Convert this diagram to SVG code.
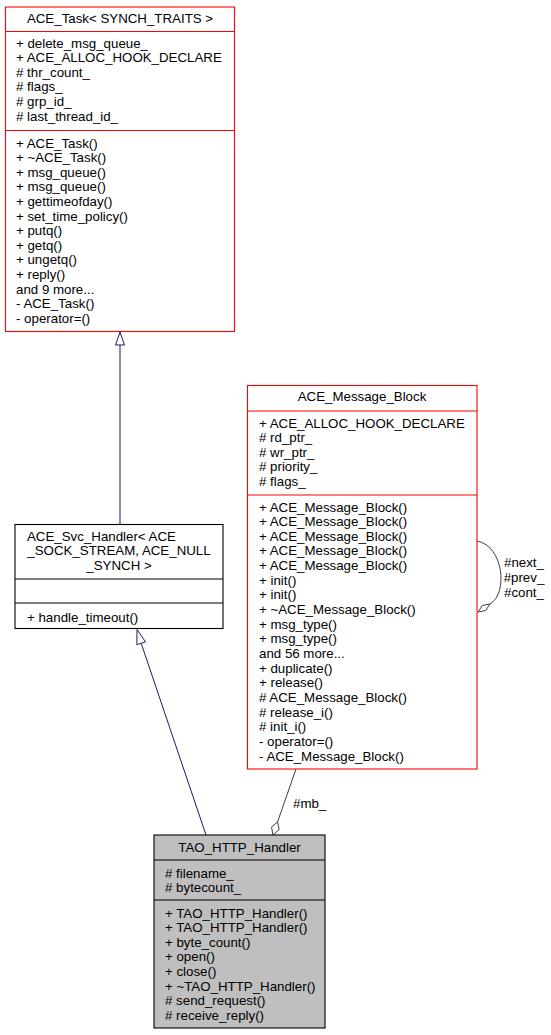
<svg xmlns="http://www.w3.org/2000/svg" width="551" height="1035" viewBox="0 0 551 1035">
<style>
text { font-family: "Liberation Sans", Arial, sans-serif; font-size: 13.3px; fill: #000; }
.c { text-anchor: middle; }
.red { fill: #fff; stroke: #ff0000; stroke-width: 1.1; }
.blk { fill: #fff; stroke: #000; stroke-width: 1.1; }
.gray { fill: #bfbfbf; stroke: #000; stroke-width: 1.1; }
.redl { stroke: #ff0000; stroke-width: 1.1; }
.blkl { stroke: #000; stroke-width: 1.1; }
.inh { fill: none; stroke: #191970; stroke-width: 1; }
.inhh { fill: #fff; stroke: #191970; stroke-width: 1; }
.col { fill: none; stroke: #404040; stroke-width: 1; }
.colh { fill: #fff; stroke: #404040; stroke-width: 1; }
</style>
<rect width="551" height="1035" fill="#fff"/>

<g id="connectors">
  <path class="inh" d="M120,524.5 L120,345"/>
  <polygon class="inhh" points="120,332 124.5,345 115.5,345"/>
  <path class="inh" d="M206,835 L141.2,643.3"/>
  <polygon class="inhh" points="137,629.5 145.5,641.9 136.9,644.7"/>
  <path class="col" d="M296,769 L277.6,821.8"/>
  <polygon class="colh" points="273,835 271.5,827.1 277.6,821.8 279.1,829.7"/>
  <text x="293" y="807.5">#mb_</text>
  <path class="col" d="M477,541 C504,546 508,594 490,604"/>
  <polygon class="colh" points="478,612 482.3,605.5 490,604 485.7,610.5"/>
  <text class="c" x="524" y="567">#next_</text>
  <text class="c" x="524" y="582">#prev_</text>
  <text class="c" x="524" y="596.5">#cont_</text>
</g>

<g id="ACE_Task">
  <rect class="red" x="5.5" y="7" width="229" height="324.5"/>
  <line class="redl" x1="5.5" y1="31.5" x2="234.5" y2="31.5"/>
  <line class="redl" x1="5.5" y1="130.5" x2="234.5" y2="130.5"/>
  <text class="c" x="120" y="23">ACE_Task&lt; SYNCH_TRAITS &gt;</text>
  <text x="16" y="47.5">+ delete_msg_queue_</text>
  <text x="16" y="62.1">+ ACE_ALLOC_HOOK_DECLARE</text>
  <text x="16" y="76.7"># thr_count_</text>
  <text x="16" y="91.3"># flags_</text>
  <text x="16" y="105.9"># grp_id_</text>
  <text x="16" y="120.5"># last_thread_id_</text>
  <text x="16" y="147.5">+ ACE_Task()</text>
  <text x="16" y="162.1">+ ~ACE_Task()</text>
  <text x="16" y="176.7">+ msg_queue()</text>
  <text x="16" y="191.3">+ msg_queue()</text>
  <text x="16" y="205.9">+ gettimeofday()</text>
  <text x="16" y="220.5">+ set_time_policy()</text>
  <text x="16" y="235.1">+ putq()</text>
  <text x="16" y="249.7">+ getq()</text>
  <text x="16" y="264.3">+ ungetq()</text>
  <text x="16" y="278.9">+ reply()</text>
  <text x="16" y="293.5">and 9 more...</text>
  <text x="16" y="308.1">- ACE_Task()</text>
  <text x="16" y="322.7">- operator=()</text>
</g>

<g id="ACE_Message_Block">
  <rect class="red" x="247.5" y="385.5" width="229.5" height="383.5"/>
  <line class="redl" x1="247.5" y1="411" x2="477" y2="411"/>
  <line class="redl" x1="247.5" y1="495" x2="477" y2="495"/>
  <text class="c" x="362" y="400.5">ACE_Message_Block</text>
  <text x="259" y="427.5">+ ACE_ALLOC_HOOK_DECLARE</text>
  <text x="259" y="442"># rd_ptr_</text>
  <text x="259" y="456.5"># wr_ptr_</text>
  <text x="259" y="471"># priority_</text>
  <text x="259" y="485.5"># flags_</text>
  <text x="259" y="511.5">+ ACE_Message_Block()</text>
  <text x="259" y="526.15">+ ACE_Message_Block()</text>
  <text x="259" y="540.8">+ ACE_Message_Block()</text>
  <text x="259" y="555.45">+ ACE_Message_Block()</text>
  <text x="259" y="570.1">+ ACE_Message_Block()</text>
  <text x="259" y="584.75">+ init()</text>
  <text x="259" y="599.4">+ init()</text>
  <text x="259" y="614.05">+ ~ACE_Message_Block()</text>
  <text x="259" y="628.7">+ msg_type()</text>
  <text x="259" y="643.35">+ msg_type()</text>
  <text x="259" y="658">and 56 more...</text>
  <text x="259" y="672.65">+ duplicate()</text>
  <text x="259" y="687.3">+ release()</text>
  <text x="259" y="701.95"># ACE_Message_Block()</text>
  <text x="259" y="716.6"># release_i()</text>
  <text x="259" y="731.25"># init_i()</text>
  <text x="259" y="745.9">- operator=()</text>
  <text x="259" y="760.55">- ACE_Message_Block()</text>
</g>

<g id="ACE_Svc_Handler">
  <rect class="blk" x="15" y="524.5" width="208" height="104"/>
  <line class="blkl" x1="15" y1="579" x2="223" y2="579"/>
  <line class="blkl" x1="15" y1="603" x2="223" y2="603"/>
  <text x="27" y="540.5">ACE_Svc_Handler&lt; ACE</text>
  <text class="c" x="119" y="555">_SOCK_STREAM, ACE_NULL</text>
  <text class="c" x="119" y="569.5">_SYNCH &gt;</text>
  <text x="27" y="621.5">+ handle_timeout()</text>
</g>

<g id="TAO_HTTP_Handler">
  <rect class="gray" x="154" y="835" width="171" height="193"/>
  <line class="blkl" x1="154" y1="860" x2="325" y2="860"/>
  <line class="blkl" x1="154" y1="900" x2="325" y2="900"/>
  <text class="c" x="239.5" y="851.5">TAO_HTTP_Handler</text>
  <text x="165" y="877.5"># filename_</text>
  <text x="165" y="891.5"># bytecount_</text>
  <text x="165" y="917.5">+ TAO_HTTP_Handler()</text>
  <text x="165" y="932.1">+ TAO_HTTP_Handler()</text>
  <text x="165" y="946.7">+ byte_count()</text>
  <text x="165" y="961.3">+ open()</text>
  <text x="165" y="975.9">+ close()</text>
  <text x="165" y="990.5">+ ~TAO_HTTP_Handler()</text>
  <text x="165" y="1005.1"># send_request()</text>
  <text x="165" y="1019.7"># receive_reply()</text>
</g>
</svg>
